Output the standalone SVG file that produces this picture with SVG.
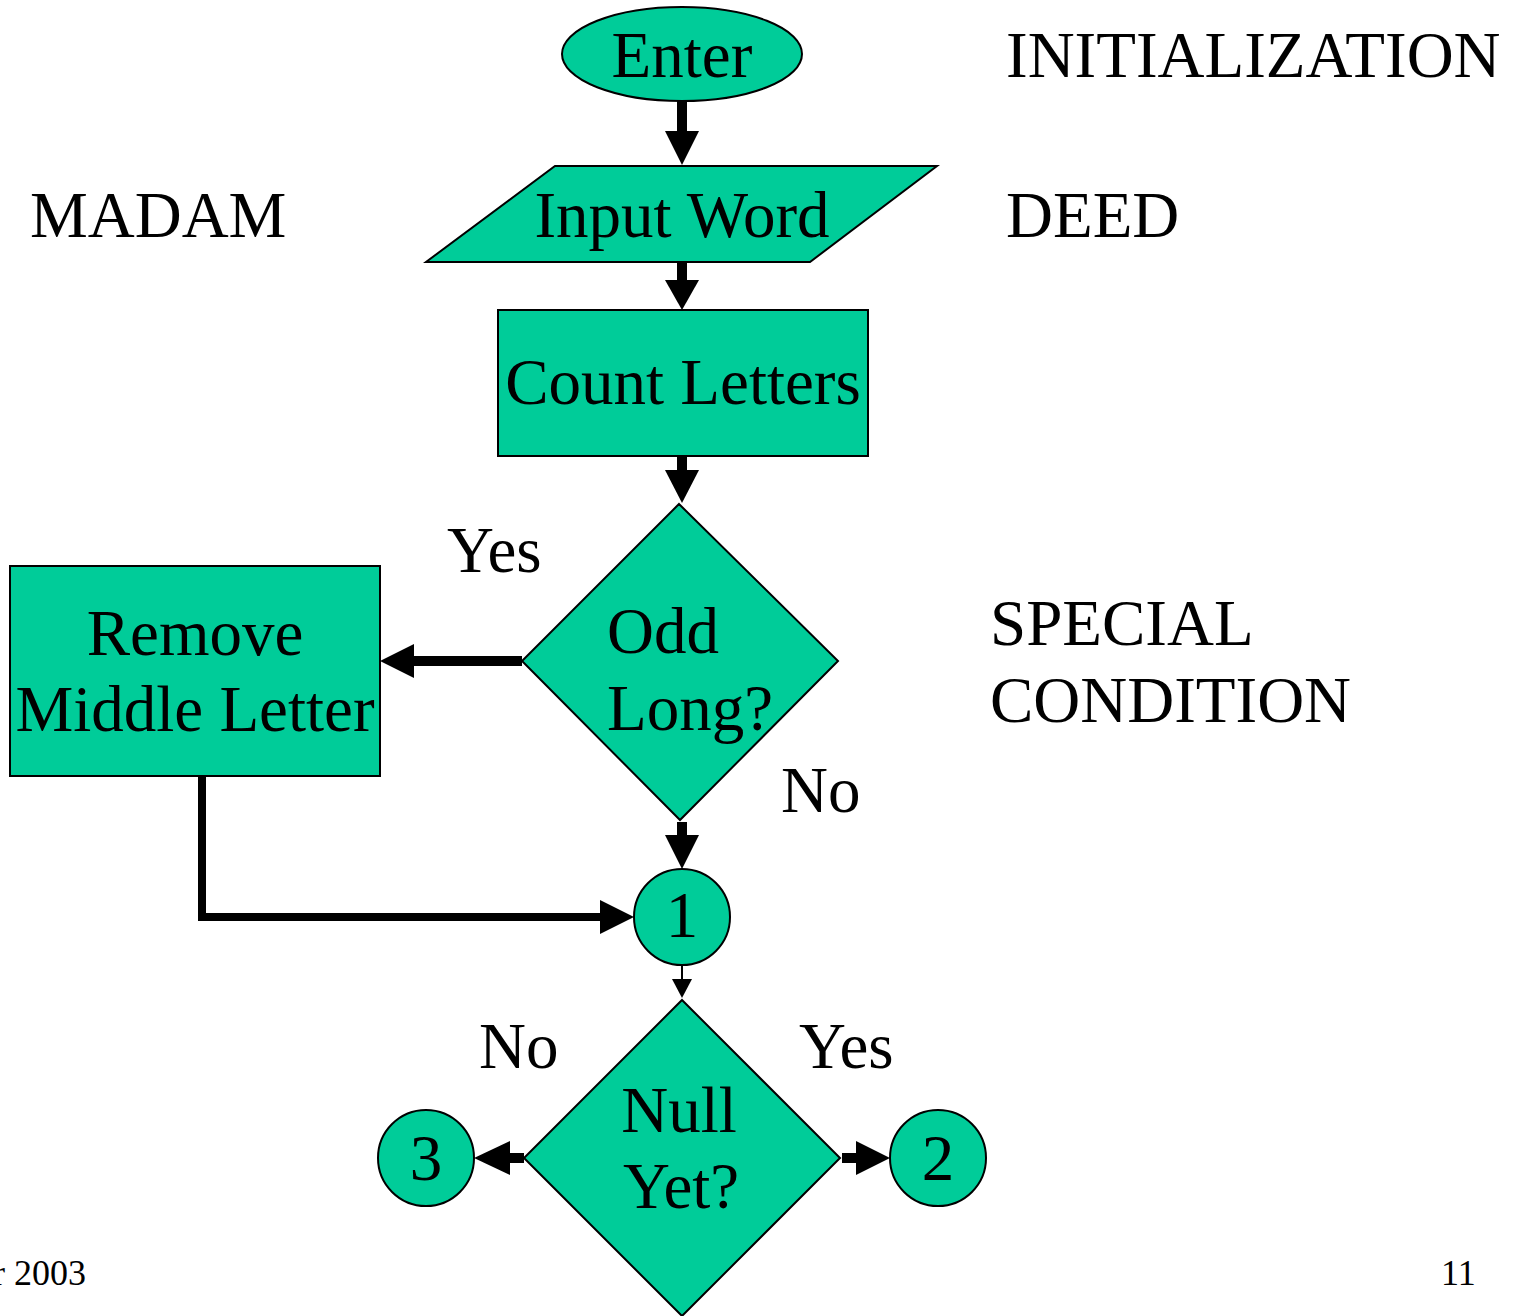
<svg xmlns="http://www.w3.org/2000/svg" width="1523" height="1316" viewBox="0 0 1523 1316">
  <style>
    .shape { fill: #00CC99; stroke: #000; stroke-width: 2; }
    .lbl { font-family: "Liberation Serif", "Times New Roman", serif; font-size: 65px; fill: #000; }
    .mid { text-anchor: middle; }
    .small { font-family: "Liberation Serif", "Times New Roman", serif; font-size: 36px; fill: #000; }
    .thick { fill: none; stroke: #000; stroke-width: 10; }
    .bend { fill: none; stroke: #000; stroke-width: 8; }
    .thin { fill: none; stroke: #000; stroke-width: 2; }
    .head { fill: #000; }
  </style>

  <rect width="1523" height="1316" fill="#fff"/>

  <!-- connectors -->
  <g id="connectors">
    <!-- Enter -> Input Word -->
    <line class="thick" x1="682" y1="101" x2="682" y2="132"/>
    <polygon class="head" points="665,131 699,131 682,165"/>
    <!-- Input Word -> Count Letters -->
    <line class="thick" x1="682" y1="262" x2="682" y2="281"/>
    <polygon class="head" points="665,280 699,280 682,310"/>
    <!-- Count Letters -> Odd Long? -->
    <line class="thick" x1="682" y1="456" x2="682" y2="471"/>
    <polygon class="head" points="665,470 699,470 682,503"/>
    <!-- Odd Long? (Yes) -> Remove Middle Letter -->
    <line class="thick" x1="522" y1="661" x2="413" y2="661"/>
    <polygon class="head" points="380,661 414,644 414,678"/>
    <!-- Odd Long? (No) -> 1 -->
    <line class="thick" x1="682" y1="822" x2="682" y2="836"/>
    <polygon class="head" points="665,835 699,835 682,869"/>
    <!-- Remove Middle Letter -> 1 -->
    <polyline class="bend" points="202,776 202,917 601,917"/>
    <polygon class="head" points="600,900 634,917 600,934"/>
    <!-- 1 -> Null Yet? -->
    <line class="thin" x1="682" y1="965" x2="682" y2="981"/>
    <polygon class="head" points="672,979 692,979 682,998"/>
    <!-- Null Yet? (No) -> 3 -->
    <line class="thick" x1="524" y1="1158" x2="508" y2="1158"/>
    <polygon class="head" points="474,1158 510,1141 510,1175"/>
    <!-- Null Yet? (Yes) -> 2 -->
    <line class="thick" x1="842" y1="1158" x2="858" y2="1158"/>
    <polygon class="head" points="890,1158 856,1141 856,1175"/>
  </g>

  <g id="enter">
    <ellipse class="shape" cx="682" cy="54" rx="120" ry="47"/>
    <text class="lbl mid" x="682" y="77">Enter</text>
  </g>

  <g id="input-word">
    <polygon class="shape" points="555,166 937,166 810,262 426,262"/>
    <text class="lbl mid" x="682" y="237">Input Word</text>
  </g>

  <g id="count-letters">
    <rect class="shape" x="498" y="310" width="370" height="146"/>
    <text class="lbl mid" x="683" y="404">Count Letters</text>
  </g>

  <g id="odd-long">
    <polygon class="shape" points="679,504 838,661 680,820 522,661"/>
    <text class="lbl" x="607" y="653">Odd</text>
    <text class="lbl" x="607" y="730">Long?</text>
  </g>

  <g id="remove-middle">
    <rect class="shape" x="10" y="566" width="370" height="210"/>
    <text class="lbl mid" x="195" y="655">Remove</text>
    <text class="lbl mid" x="195" y="731">Middle Letter</text>
  </g>

  <g id="connector-1">
    <circle class="shape" cx="682" cy="917" r="48"/>
    <text class="lbl mid" x="682" y="937">1</text>
  </g>

  <g id="null-yet">
    <polygon class="shape" points="682,1000 840,1158 682,1316 524,1158"/>
    <text class="lbl mid" x="679" y="1132">Null</text>
    <text class="lbl" x="623" y="1208">Yet?</text>
  </g>

  <g id="connector-3">
    <circle class="shape" cx="426" cy="1158" r="48"/>
    <text class="lbl mid" x="426" y="1180">3</text>
  </g>

  <g id="connector-2">
    <circle class="shape" cx="938" cy="1158" r="48"/>
    <text class="lbl mid" x="938" y="1180">2</text>
  </g>

  <!-- branch labels -->
  <g id="branch-labels">
    <text class="lbl" x="447" y="572">Yes</text>
    <text class="lbl" x="781" y="812">No</text>
    <text class="lbl" x="479" y="1068">No</text>
    <text class="lbl" x="799" y="1068">Yes</text>
  </g>

  <!-- side notes -->
  <g id="notes">
    <text class="lbl" x="1006" y="77">INITIALIZATION</text>
    <text class="lbl" x="30" y="237">MADAM</text>
    <text class="lbl" x="1006" y="237">DEED</text>
    <text class="lbl" x="990" y="645">SPECIAL</text>
    <text class="lbl" x="990" y="722">CONDITION</text>
  </g>

  <!-- footer -->
  <g id="footer">
    <text class="small" x="-7" y="1285">r 2003</text>
    <text class="small" x="1441" y="1285">11</text>
  </g>
</svg>
